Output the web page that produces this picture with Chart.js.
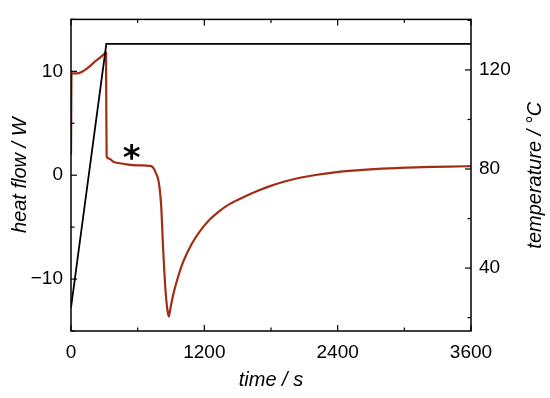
<!DOCTYPE html>
<html>
<head>
<meta charset="utf-8">
<script src="https://cdn.jsdelivr.net/npm/chart.js@4.4.0/dist/chart.umd.min.js"></script>
<style>
  html, body { margin: 0; padding: 0; background: #fff; }
</style>
</head>
<body>
<canvas id="dscChart" width="550" height="398"></canvas>
<script>
// heat flow trace (W) vs time (s)
const timeHF = [0, 5, 12, 57, 117, 160, 207, 252, 297, 315, 318, 321, 342, 381, 440, 500, 600, 706, 730, 750, 767, 781, 797, 812, 828, 850, 868, 882, 890, 905, 921, 966, 1011, 1086, 1161, 1251, 1341, 1431, 1551, 1671, 1791, 1906, 2060, 2200, 2357, 2500, 2657, 2800, 2957, 3100, 3257, 3400, 3557, 3600]
const heatFlow = [2.0, 9.8, 9.8, 9.8, 10.07, 10.4, 10.86, 11.24, 11.65, 11.8, 6.0, 1.8, 1.6, 1.3, 1.15, 1.05, 0.95, 0.9, 0.82, 0.55, 0.12, -0.25, -1.2, -3.0, -6.8, -11.0, -13.0, -13.6, -13.1, -12.25, -11.45, -9.7, -8.3, -6.62, -5.38, -4.25, -3.4, -2.76, -2.12, -1.55, -1.05, -0.66, -0.25, 0.02, 0.25, 0.41, 0.54, 0.63, 0.70, 0.755, 0.80, 0.835, 0.86, 0.865]

// temperature program (°C)
const timeT = [0, 318, 3600]
const temperature = [24, 130.5, 130.5]

// ticks
const timeTicks = [0, 1200, 2400, 3600]
const timeMinor = [600, 1800, 3000]
const hfTicks = [-10, 0, 10]
const hfMinor = [-15, -5, 5, 15]
const tempTicks = [40, 80, 120]
const tempMinor = [20, 60, 100, 140]

// the asterisk mark
const starAt = { x: 545, y: 2.1 }

const tickFont = { family: "'Liberation Sans', Arial, sans-serif", size: 19 }
const titleFont = { family: "'Liberation Sans', Arial, sans-serif", size: 20, style: 'italic' }

const fixTicks = (list) => (scale) => { scale.ticks = list.map(v => ({ value: v })) }

// frame + inward tick marks + right title + asterisk
const decorPlugin = {
  id: 'decor',
  afterDatasetsDraw(chart) {
    const { ctx, chartArea: a, scales } = chart
    ctx.save()
    ctx.strokeStyle = '#000'
    ctx.lineWidth = 1.5
    ctx.strokeRect(a.left, a.top, a.right - a.left, a.bottom - a.top)

    ctx.lineWidth = 1.2
    const major = 6, minor = 3.5
    const vTick = (scale, vals, len) => vals.forEach(v => {
      const px = scale.getPixelForValue(v)
      ctx.beginPath(); ctx.moveTo(px, a.bottom); ctx.lineTo(px, a.bottom - len); ctx.stroke()
      ctx.beginPath(); ctx.moveTo(px, a.top); ctx.lineTo(px, a.top + len); ctx.stroke()
    })
    vTick(scales.x, timeTicks, major)
    vTick(scales.x, timeMinor, minor)
    const hTick = (scale, vals, len, edge, dir) => vals.forEach(v => {
      const py = scale.getPixelForValue(v)
      ctx.beginPath(); ctx.moveTo(edge, py); ctx.lineTo(edge + dir * len, py); ctx.stroke()
    })
    hTick(scales.y, hfTicks, major, a.left, 1)
    hTick(scales.y, hfMinor, minor, a.left, 1)
    hTick(scales.y1, tempTicks, major, a.right, -1)
    hTick(scales.y1, tempMinor, minor, a.right, -1)

    // right axis title, reading bottom to top like the left one
    ctx.fillStyle = '#000'
    ctx.font = `italic ${titleFont.size}px ${titleFont.family}`
    ctx.textAlign = 'center'
    ctx.textBaseline = 'middle'
    ctx.translate(535, (a.top + a.bottom) / 2)
    ctx.rotate(-Math.PI / 2)
    ctx.fillText('temperature / °C', 0, 0)
    ctx.restore()

    ctx.save()
    ctx.fillStyle = '#000'
    ctx.font = "bold 34px 'DejaVu Sans', sans-serif"
    ctx.textAlign = 'center'
    ctx.textBaseline = 'alphabetic'
    const sx = scales.x.getPixelForValue(starAt.x)
    const sy = scales.y.getPixelForValue(starAt.y)
    ctx.fillText('*', sx, sy + 15.5)
    ctx.restore()
  }
}

const ctx = document.getElementById('dscChart').getContext('2d')
new Chart(ctx, {
  type: 'line',
  data: {
    datasets: [
      {
        label: 'temperature',
        data: timeT.map((t, i) => ({ x: t, y: temperature[i] })),
        yAxisID: 'y1',
        borderColor: '#000',
        borderWidth: 1.8,
        pointRadius: 0,
        tension: 0
      },
      {
        label: 'heat flow',
        data: timeHF.map((t, i) => ({ x: t, y: heatFlow[i] })),
        yAxisID: 'y',
        borderColor: 'rgb(160,46,20)',
        borderWidth: 2.2,
        pointRadius: 0,
        cubicInterpolationMode: 'monotone'
      }
    ]
  },
  options: {
    responsive: false,
    devicePixelRatio: 1,
    animation: false,
    layout: { padding: { top: 17, left: 0, right: 0, bottom: 0 } },
    plugins: { legend: { display: false }, tooltip: { enabled: false } },
    scales: {
      x: {
        type: 'linear',
        position: 'bottom',
        min: 0,
        max: 3600,
        grid: { display: false, drawTicks: false },
        border: { display: false },
        afterBuildTicks: fixTicks(timeTicks),
        afterFit: (s) => { s.height = 67 },
        ticks: { font: tickFont, color: '#000', padding: 10, maxRotation: 0, autoSkip: false, callback: (v) => String(v) },
        title: { display: true, text: 'time / s', font: titleFont, color: '#000', padding: { top: 0, bottom: 6 } }
      },
      y: {
        type: 'linear',
        position: 'left',
        min: -15,
        max: 15,
        grid: { display: false, drawTicks: false },
        border: { display: false },
        afterBuildTicks: fixTicks(hfTicks),
        afterFit: (s) => { s.width = 71 },
        ticks: {
          font: tickFont, color: '#000', padding: 8,
          callback: (v) => v < 0 ? '\u2212' + Math.abs(v) : String(v)
        },
        title: { display: true, text: 'heat flow / W', font: titleFont, color: '#000', padding: { top: 8, bottom: 0 } }
      },
      y1: {
        type: 'linear',
        position: 'right',
        min: 14.6,
        max: 140.4,
        grid: { display: false, drawTicks: false },
        border: { display: false },
        afterBuildTicks: fixTicks(tempTicks),
        afterFit: (s) => { s.width = 79 },
        ticks: { font: tickFont, color: '#000', padding: 8, callback: (v) => String(v) }
      }
    }
  },
  plugins: [decorPlugin]
})
</script>
</body>
</html>
